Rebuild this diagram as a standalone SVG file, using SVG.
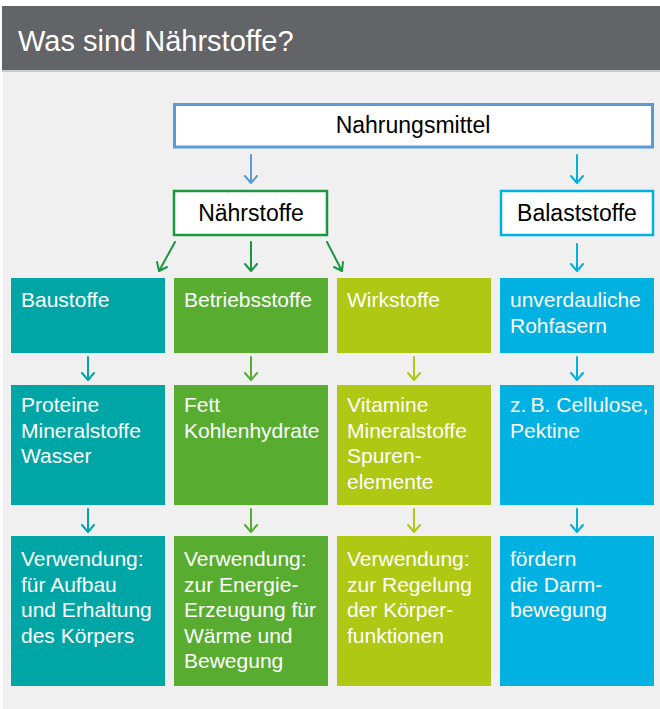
<svg xmlns="http://www.w3.org/2000/svg" width="660" height="709" viewBox="0 0 660 709">
<defs>
<style>
text{font-family:"Liberation Sans",Arial,sans-serif}
.t{font-size:21px;fill:#fff}
.h{font-size:23px;fill:#000;text-anchor:middle}
.c{stroke-width:2;fill:none}
</style>
</defs>
<rect x="0" y="0" width="660" height="709" fill="#fff"/>
<rect x="2" y="6" width="658" height="64" fill="#636467"/>
<rect x="2" y="70" width="658" height="2" fill="#c9c9c9"/>
<rect x="3" y="72" width="657" height="637" fill="#f0f0f0"/>
<text x="18" y="51" style="font-size:29px;fill:#fff">Was sind Nährstoffe?</text>

<g id="connectors" stroke-linecap="round" stroke-linejoin="round">
<g class="c" stroke="#5b9bd5"><path d="M251,155V183M245,176L251,183L257,176"/></g>
<g class="c" stroke="#00b1e1"><path d="M577,155V183M571,176L577,183L583,176"/></g>
<g class="c" stroke="#1a9641">
<path d="M175,242L159,271M157,262L159,271L167,267"/>
<path d="M251,242V271M245,264L251,271L257,264"/>
<path d="M327,242L342,271M334,267L342,271L343,262"/>
</g>
<g class="c" stroke="#00b1e1"><path d="M577,244V271M571,264L577,271L583,264"/></g>
<g class="c" stroke="#00a6a6"><path d="M88,357V380M82,373L88,380L94,373"/><path d="M88,509V532M82,525L88,532L94,525"/></g>
<g class="c" stroke="#58ad31"><path d="M251,357V380M245,373L251,380L257,373"/><path d="M251,509V532M245,525L251,532L257,525"/></g>
<g class="c" stroke="#aec814"><path d="M414,357V380M408,373L414,380L420,373"/><path d="M414,509V532M408,525L414,532L420,525"/></g>
<g class="c" stroke="#00b1e1"><path d="M577,357V380M571,373L577,380L583,373"/><path d="M577,509V532M571,525L577,532L583,525"/></g>
</g>

<g id="nahrungsmittel"><rect x="174.5" y="104.5" width="478" height="42.5" fill="#fff" stroke="#5b9bd5" stroke-width="3"/><text class="h" x="413" y="133">Nahrungsmittel</text></g>
<g id="naehrstoffe"><rect x="174" y="191" width="153" height="44" fill="#fff" stroke="#1a9641" stroke-width="2.5"/><text class="h" x="251" y="221">Nährstoffe</text></g>
<g id="balaststoffe"><rect x="501" y="191" width="152" height="44" fill="#fff" stroke="#00b1e1" stroke-width="2.5"/><text class="h" x="577" y="221">Balaststoffe</text></g>

<g id="baustoffe"><rect x="11" y="278" width="154" height="75" fill="#00a6a6"/><text class="t" x="21" y="307">Baustoffe</text></g>
<g id="betriebsstoffe"><rect x="174" y="278" width="154" height="75" fill="#58ad31"/><text class="t" x="184" y="307">Betriebsstoffe</text></g>
<g id="wirkstoffe"><rect x="337" y="278" width="154" height="75" fill="#aec814"/><text class="t" x="347" y="307">Wirkstoffe</text></g>
<g id="rohfasern"><rect x="500" y="278" width="154" height="75" fill="#00b1e1"/><text class="t" x="510" y="307">unverdauliche</text><text class="t" x="510" y="333">Rohfasern</text></g>

<g id="proteine"><rect x="11" y="385" width="154" height="120" fill="#00a6a6"/><text class="t" x="21" y="412">Proteine</text><text class="t" x="21" y="438">Mineralstoffe</text><text class="t" x="21" y="463">Wasser</text></g>
<g id="fett"><rect x="174" y="385" width="154" height="120" fill="#58ad31"/><text class="t" x="184" y="412">Fett</text><text class="t" x="184" y="438">Kohlenhydrate</text></g>
<g id="vitamine"><rect x="337" y="385" width="154" height="120" fill="#aec814"/><text class="t" x="347" y="412">Vitamine</text><text class="t" x="347" y="438">Mineralstoffe</text><text class="t" x="347" y="463">Spuren-</text><text class="t" x="347" y="489">elemente</text></g>
<g id="cellulose"><rect x="500" y="385" width="154" height="120" fill="#00b1e1"/><text class="t" x="510" y="412">z.&#8201;B. Cellulose,</text><text class="t" x="510" y="438">Pektine</text></g>

<g id="verwendung1"><rect x="11" y="536" width="154" height="150" fill="#00a6a6"/><text class="t" x="21" y="566">Verwendung:</text><text class="t" x="21" y="592">für Aufbau</text><text class="t" x="21" y="617">und Erhaltung</text><text class="t" x="21" y="643">des Körpers</text></g>
<g id="verwendung2"><rect x="174" y="536" width="154" height="150" fill="#58ad31"/><text class="t" x="184" y="566">Verwendung:</text><text class="t" x="184" y="592">zur Energie-</text><text class="t" x="184" y="617">Erzeugung für</text><text class="t" x="184" y="643">Wärme und</text><text class="t" x="184" y="668">Bewegung</text></g>
<g id="verwendung3"><rect x="337" y="536" width="154" height="150" fill="#aec814"/><text class="t" x="347" y="566">Verwendung:</text><text class="t" x="347" y="592">zur Regelung</text><text class="t" x="347" y="617">der Körper-</text><text class="t" x="347" y="643">funktionen</text></g>
<g id="foerdern"><rect x="500" y="536" width="154" height="150" fill="#00b1e1"/><text class="t" x="510" y="566">fördern</text><text class="t" x="510" y="592">die Darm-</text><text class="t" x="510" y="617">bewegung</text></g>
</svg>
